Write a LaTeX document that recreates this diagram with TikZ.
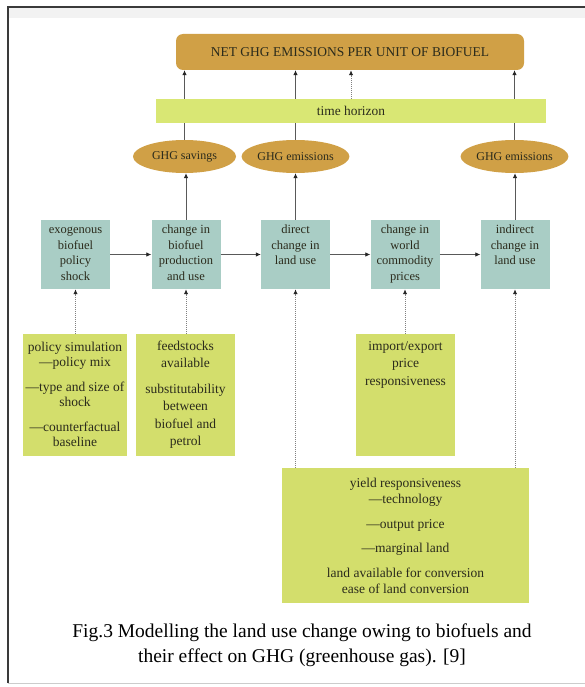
\documentclass[tikz,border=0pt]{standalone}
\usepackage{fontspec}
\IfFontExistsTF{LiberationSerif-Regular.ttf}
  {\setmainfont{LiberationSerif-Regular.ttf}[BoldFont=LiberationSerif-Bold.ttf,ItalicFont=LiberationSerif-Italic.ttf]}
  {\setmainfont{Liberation Serif}}
\usetikzlibrary{arrows.meta,shapes.geometric,backgrounds}
\definecolor{gold}{HTML}{D0A046}
\definecolor{tealbox}{HTML}{A9CDC5}
\definecolor{greenbox}{HTML}{D3DE6C}
\definecolor{barcol}{HTML}{D9E774}
\definecolor{txtdark}{HTML}{2B2B1C}
\definecolor{framecol}{HTML}{3A3A3A}
\newcommand{\boxtxt}[4]{\parbox[t][#1][t]{#2}{\centering\rule{0pt}{#3}#4}}
\begin{document}
\begin{tikzpicture}[x=1pt,y=-1pt,
  tealstyle/.style={fill=tealbox, inner sep=0pt, minimum width=69pt, minimum height=69pt,
    font=\fontsize{12.5}{15.5}\selectfont, text=txtdark},
  greenstyle/.style={fill=greenbox, inner sep=0pt, font=\fontsize{13.5}{17}\selectfont, text=txtdark},
  ellstyle/.style={ellipse, fill=gold, inner sep=0pt, minimum width=103pt, minimum height=33pt,
    font=\fontsize{12}{14}\selectfont, text=txtdark},
  conn/.style={draw=black!65, line width=0.8pt, -{Latex[length=5pt,width=4.5pt,color=black!85]}},
  dotconn/.style={draw=black!50, line width=1pt, densely dotted, -{Latex[length=5pt,width=4.5pt,color=black!85]}}
]
\useasboundingbox (0,0) rectangle (585,687);
% frame
\fill[black!5] (8,7) rectangle (585,18);
\draw[framecol, line width=1.3pt] (8,683) -- (8,7) -- (585,7);
\draw[black!20, line width=0.6pt] (8,683) -- (585,683);

% top box and bar
\node[fill=gold, rounded corners=7pt, minimum width=348pt, minimum height=36pt, inner sep=0pt,
  font=\fontsize{13.5}{15}\selectfont, text=txtdark] (net) at (350,52) {NET GHG EMISSIONS PER UNIT OF BIOFUEL};
\node[fill=barcol, minimum width=390pt, minimum height=24pt, inner sep=0pt,
  font=\fontsize{13.4}{15}\selectfont, text=txtdark] (th) at (351,111) {time horizon};

% ellipses
\node[ellstyle] (sav) at (184.5,156.5) {GHG savings};
\node[ellstyle, minimum width=104pt] (em1) at (295.5,156.5) {GHG emissions};
\node[ellstyle] (em2) at (514.5,156.5) {GHG emissions};

% teal boxes
\node[tealstyle] (b1) at (75.5,254.5) {\boxtxt{69pt}{69pt}{13.5pt}{exogenous\\biofuel\\policy\\shock}};
\node[tealstyle] (b2) at (186,254.5) {\boxtxt{69pt}{69pt}{13.5pt}{change in\\biofuel\\production\\and use}};
\node[tealstyle] (b3) at (295.5,254.5) {\boxtxt{69pt}{69pt}{13.5pt}{direct\\change in\\land use}};
\node[tealstyle] (b4) at (405,254.5) {\boxtxt{69pt}{69pt}{13.5pt}{change in\\world\\commodity\\prices}};
\node[tealstyle] (b5) at (515,254.5) {\boxtxt{69pt}{69pt}{13.5pt}{indirect\\change in\\land use}};

% green boxes
\node[greenstyle] (pol) at (75,395) {\boxtxt{122pt}{104pt}{17pt}{\baselineskip=15.5pt
  policy simulation\\—policy mix\\[9pt]—type and size of\\shock\\[9pt]—counterfactual\\baseline}};
\node[greenstyle] (feed) at (185.5,395) {\boxtxt{122pt}{99pt}{16pt}{\baselineskip=17.5pt
  feedstocks\\available\\[8pt]substitutability\\between\\biofuel and\\petrol}};
\node[greenstyle] (imp) at (405.5,395) {\boxtxt{122pt}{99pt}{16pt}{\baselineskip=17.5pt
  import/export\\price\\responsiveness}};
\node[greenstyle] (yld) at (405.5,535.5) {\boxtxt{135pt}{247pt}{19pt}{\baselineskip=16.5pt
  yield responsiveness\\—technology\\[8pt]—output price\\[8pt]—marginal land\\[8pt]land available for conversion\\ease of land conversion}};

% caption
\node[font=\fontsize{19.5}{24.5}\selectfont, align=center, text=black] (cap) at (302,645)
  {Fig.3 Modelling the land use change owing to biofuels and\\their effect on GHG (greenhouse gas). [9]};

% connectors
\begin{pgfonlayer}{background}
\draw[conn] (sav.north) -- (sav.north |- net.south);
\draw[conn] (em1.north) -- (em1.north |- net.south);
\draw[conn] (em2.north) -- (em2.north |- net.south);
\end{pgfonlayer}
\draw[dotconn] (th.north) -- (th.north |- net.south);
\draw[conn] (b2.north) -- (b2.north |- sav.south);
\draw[conn] (b3.north) -- (b3.north |- em1.south);
\draw[conn] (b5.north) -- (b5.north |- em2.south);
\draw[conn] (b1.east) -- (b2.west);
\draw[conn] (b2.east) -- (b3.west);
\draw[conn] (b3.east) -- (b4.west);
\draw[conn] (b4.east) -- (b5.west);
\draw[dotconn] (pol.north -| b1.south) -- (b1.south);
\draw[dotconn] (feed.north -| b2.south) -- (b2.south);
\draw[dotconn] (yld.north -| b3.south) -- (b3.south);
\draw[dotconn] (imp.north -| b4.south) -- (b4.south);
\draw[dotconn] (yld.north -| b5.south) -- (b5.south);
\end{tikzpicture}
\end{document}
